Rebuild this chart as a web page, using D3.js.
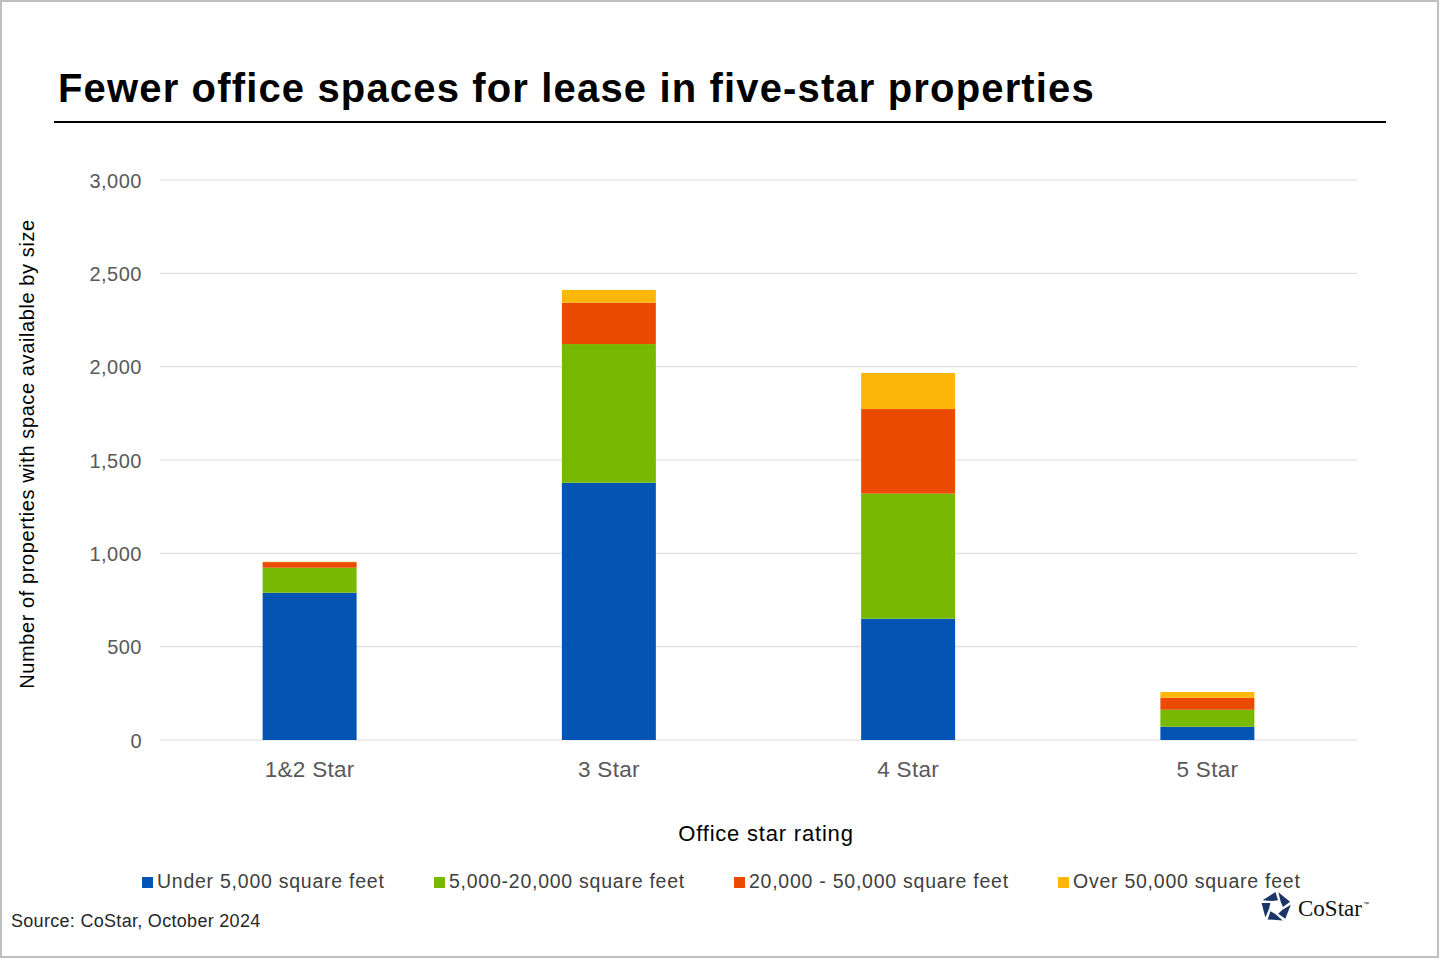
<!DOCTYPE html>
<html><head><meta charset="utf-8">
<script src="https://cdn.jsdelivr.net/npm/d3@7"></script>
<style>
html,body{margin:0;padding:0;background:#fff;}
svg{display:block;font-family:"Liberation Sans",Arial,sans-serif;}
</style></head>
<body>
<svg id="chart" width="1440" height="960"></svg>
<script>
const categories = ["1&2 Star", "3 Star", "4 Star", "5 Star"];
const seriesNames = ["Under 5,000 square feet", "5,000-20,000 square feet", "20,000 - 50,000 square feet", "Over 50,000 square feet"];
const under5k   = [789, 1378, 650, 71];
const from5to20k = [134, 743, 670, 91];
const from20to50k = [30, 222, 453, 65];
const over50k   = [2, 68, 193, 30];
const yTicks = [0, 500, 1000, 1500, 2000, 2500, 3000];
const colors = ["#0455b3", "#77b900", "#eb4b00", "#fdb60a"];

const seriesValues = [under5k, from5to20k, from20to50k, over50k];
const rows = categories.map((c, i) => {
  const r = {cat: c};
  seriesNames.forEach((s, j) => r[s] = seriesValues[j][i]);
  return r;
});

const svg = d3.select("#chart");
// frame
svg.append("rect").attr("x",1).attr("y",1).attr("width",1437).attr("height",956)
  .attr("fill","#fff").attr("stroke","#bfbfbf").attr("stroke-width",2);

// title
svg.append("text").attr("x",58).attr("y",102).attr("font-size",40).attr("font-weight","bold")
  .attr("letter-spacing",1.15).attr("fill","#000").text("Fewer office spaces for lease in five-star properties");
svg.append("line").attr("x1",54).attr("x2",1386).attr("y1",122).attr("y2",122)
  .attr("stroke","#000").attr("stroke-width",2);

const x = d3.scaleBand().domain(categories).range([160,1357]).paddingInner(0.686).paddingOuter(0.343);
const y = d3.scaleLinear().domain([0,3000]).range([740,180]);

// gridlines
svg.append("g").selectAll("line").data(yTicks).join("line")
  .attr("x1",160).attr("x2",1357).attr("y1",d=>y(d)).attr("y2",d=>y(d))
  .attr("stroke","#d9d9d9").attr("stroke-width",1);

// y axis labels
const yAxis = d3.axisLeft(y).tickValues(yTicks).tickFormat(d3.format(",")).tickSize(0).tickPadding(0);
const yg = svg.append("g").attr("transform","translate(142,0)").call(yAxis);
yg.select(".domain").remove();
yg.selectAll("text").attr("font-size",20).attr("letter-spacing",0.5).attr("fill","#595959")
  .attr("font-family","\"Liberation Sans\",Arial,sans-serif").attr("dy","0.35em");

// stacked bars
const stack = d3.stack().keys(seriesNames)(rows);
svg.append("g").selectAll("g").data(stack).join("g")
  .attr("fill",(d,i)=>colors[i])
  .selectAll("rect").data(d=>d).join("rect")
  .attr("x",d=>x(d.data.cat)).attr("width",x.bandwidth())
  .attr("y",d=>y(d[1])).attr("height",d=>y(d[0])-y(d[1]));

// x axis labels
const xAxis = d3.axisBottom(x).tickSize(0).tickPadding(0);
const xg = svg.append("g").attr("transform","translate(0,777)").call(xAxis);
xg.select(".domain").remove();
xg.selectAll("text").attr("font-size",22.5).attr("letter-spacing",0.3).attr("fill","#595959")
  .attr("font-family","\"Liberation Sans\",Arial,sans-serif").attr("dy","0");

// axis titles
svg.append("text").attr("x",766).attr("y",841).attr("text-anchor","middle")
  .attr("font-size",22).attr("letter-spacing",0.8).attr("fill","#000").text("Office star rating");
svg.append("text").attr("transform","translate(34,454) rotate(-90)").attr("text-anchor","middle")
  .attr("font-size",20).attr("letter-spacing",0.6).attr("fill","#000").text("Number of properties with space available by size");

// legend
const legendX = [142, 434, 734, 1058];
const lg = svg.append("g").selectAll("g").data(seriesNames).join("g")
  .attr("transform",(d,i)=>`translate(${legendX[i]},888)`);
lg.append("rect").attr("x",0).attr("y",-11).attr("width",11).attr("height",11).attr("fill",(d,i)=>colors[i]);
lg.append("text").attr("x",15).attr("y",0).attr("font-size",19.5).attr("fill","#404040")
  .attr("letter-spacing",0.75).text(d=>d);

// source
svg.append("text").attr("x",11).attr("y",927).attr("font-size",18).attr("letter-spacing",0.3)
  .attr("fill","#262626").text("Source: CoStar, October 2024");

// CoStar logo
const logo = svg.append("g").attr("transform","translate(1276,907)");
const R = 15, r = 7;
for (let k = 0; k < 5; k++) {
  const a0 = (-90 + k*72) * Math.PI/180;
  const a1 = (-90 + (k+1)*72) * Math.PI/180;
  const am = (a0 + a1) / 2;
  const pts = [
    [R*Math.cos(a0+0.16), R*Math.sin(a0+0.16)],
    [R*Math.cos(a1-0.04), R*Math.sin(a1-0.04)],
    [r*Math.cos(a1+0.3), r*Math.sin(a1+0.3)],
    [r*Math.cos(am+0.1), r*Math.sin(am+0.1)]
  ];
  logo.append("path").attr("d", d3.line()(pts) + "Z").attr("fill","#1c3567");
}
svg.append("text").attr("x",1298).attr("y",916).attr("font-family","\"Liberation Serif\",\"Times New Roman\",serif")
  .attr("font-size",23).attr("fill","#111").text("CoStar");
svg.append("text").attr("x",1363).attr("y",906).attr("font-family","\"Liberation Sans\",Arial,sans-serif")
  .attr("font-size",6).attr("fill","#111").text("™");
</script>
</body></html>
